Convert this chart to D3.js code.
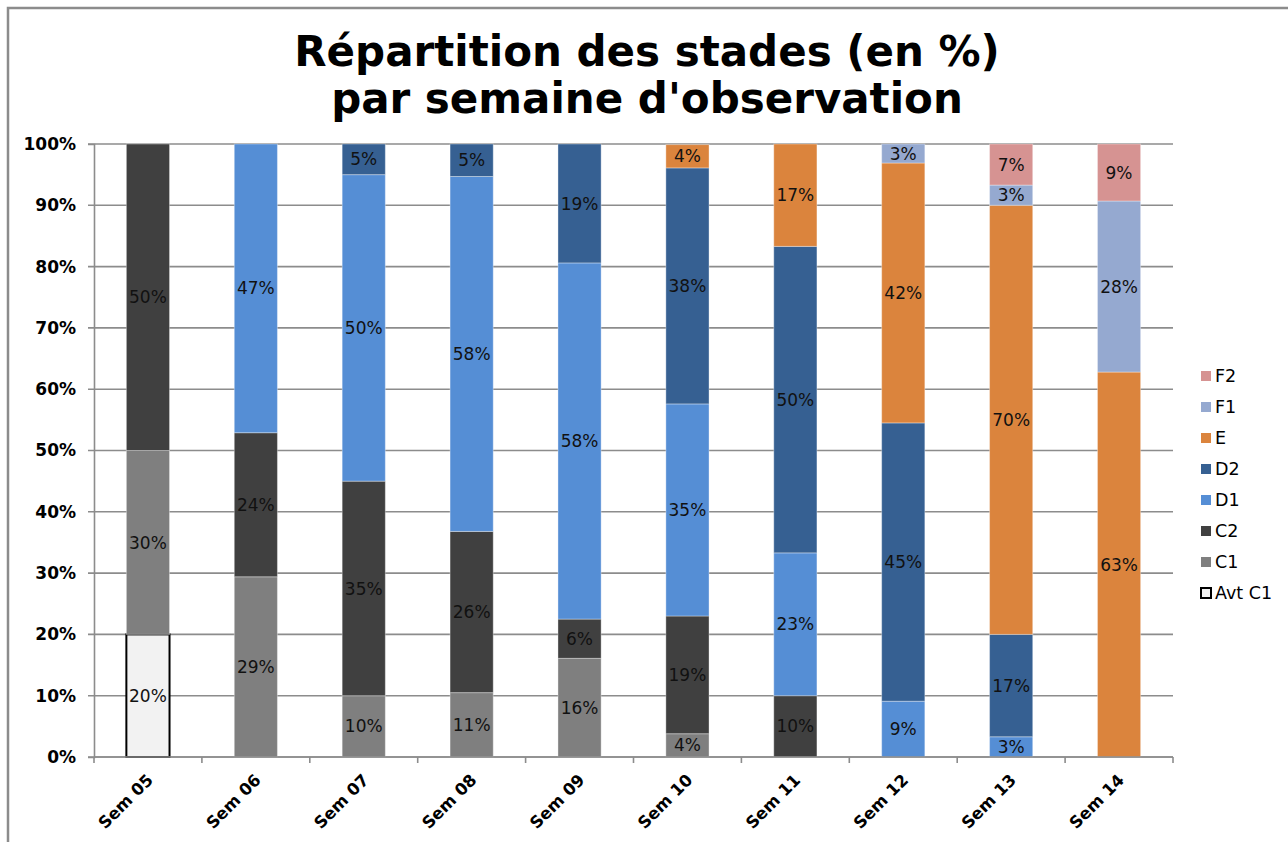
<!DOCTYPE html>
<html>
<head>
<meta charset="utf-8">
<script src="https://cdn.jsdelivr.net/npm/d3@7"></script>
<style>
  body { margin: 0; background: #fff; }
  svg { display: block; font-family: "DejaVu Sans", Verdana, sans-serif; }
</style>
</head>
<body>
<div id="chart"></div>
<script>
// weeks on the x axis
var weeks = ["Sem 05", "Sem 06", "Sem 07", "Sem 08", "Sem 09", "Sem 10", "Sem 11", "Sem 12", "Sem 13", "Sem 14"];
// stages, bottom to top
var stages = ["Avt C1", "C1", "C2", "D1", "D2", "E", "F1", "F2"];
var stageColors = ["#f2f2f2", "#7f7f7f", "#404040", "#558ed5", "#366092", "#db843d", "#95a9d0", "#d69392"];

// share of each stage per week (%)
var avtC1 = [20, 0, 0, 0, 0, 0, 0, 0, 0, 0];
var c1 = [30, 29.4, 10, 10.5, 16.1, 3.8, 0, 0, 0, 0];
var c2 = [50, 23.5, 35, 26.3, 6.4, 19.2, 10, 0, 0, 0];
var d1 = [0, 47.1, 50, 57.9, 58.1, 34.6, 23.3, 9.1, 3.3, 0];
var d2 = [0, 0, 5, 5.3, 19.4, 38.5, 50, 45.4, 16.7, 0];
var e = [0, 0, 0, 0, 0, 3.8, 16.7, 42.4, 70, 62.8];
var f1 = [0, 0, 0, 0, 0, 0, 0, 3.1, 3.3, 27.9];
var f2 = [0, 0, 0, 0, 0, 0, 0, 0, 6.7, 9.3];

var yTicks = [0, 10, 20, 30, 40, 50, 60, 70, 80, 90, 100];

var series = [avtC1, c1, c2, d1, d2, e, f1, f2];
var rows = weeks.map(function (w, i) {
  var r = { week: w };
  stages.forEach(function (s, k) { r[s] = series[k][i]; });
  return r;
});

var W = 1288, H = 842;
var svg = d3.select("#chart").append("svg").attr("width", W).attr("height", H);

// outer frame (cropped chart area border)
svg.append("path")
  .attr("d", "M8," + H + " L8,8 L" + W + ",8")
  .attr("fill", "none").attr("stroke", "#8c8c8c").attr("stroke-width", 2.5);

// title
var title = svg.append("text")
  .attr("text-anchor", "middle")
  .attr("font-weight", "bold")
  .attr("font-size", 42)
  .attr("fill", "#000");
title.append("tspan").attr("x", 647).attr("y", 66).text("Répartition des stades (en %)");
title.append("tspan").attr("x", 647).attr("y", 113).text("par semaine d'observation");

var plotLeft = 94, plotRight = 1173, plotTop = 144, plotBottom = 757;

var x = d3.scaleBand().domain(weeks).range([plotLeft, plotRight]).paddingInner(0.6).paddingOuter(0.3);
var y = d3.scaleLinear().domain([0, 100]).range([plotBottom, plotTop]);

// gridlines
svg.append("g").selectAll("line").data(yTicks).join("line")
  .attr("x1", plotLeft - 6).attr("x2", plotRight)
  .attr("y1", function (d) { return y(d); }).attr("y2", function (d) { return y(d); })
  .attr("stroke", "#8c8c8c").attr("stroke-width", 1.6);

// stacked bars
var stack = d3.stack().keys(stages)(rows);

var layers = svg.append("g").selectAll("g").data(stack).join("g")
  .attr("fill", function (d, i) { return stageColors[i]; });

layers.selectAll("rect").data(function (d) { return d.filter(function (p) { return p[1] - p[0] > 0; }); })
  .join("rect")
  .attr("x", function (p) { return x(p.data.week); })
  .attr("width", x.bandwidth())
  .attr("y", function (p) { return y(p[1]); })
  .attr("height", function (p) { return y(p[0]) - y(p[1]); })
  .attr("stroke", function () { return this.parentNode.__data__.key === "Avt C1" ? "#000" : "rgba(255,255,255,0.35)"; })
  .attr("stroke-width", function () { return this.parentNode.__data__.key === "Avt C1" ? 2 : 1; });

// data labels
layers.selectAll("text").data(function (d) { return d.filter(function (p) { return p[1] - p[0] > 0; }); })
  .join("text")
  .attr("x", function (p) { return x(p.data.week) + x.bandwidth() / 2; })
  .attr("y", function (p) { return (y(p[0]) + y(p[1])) / 2; })
  .attr("dy", "0.36em")
  .attr("text-anchor", "middle")
  .attr("font-size", 17)
  .attr("fill", "#111")
  .text(function (p) { return Math.round(p[1] - p[0]) + "%"; });

// y axis
var yAxis = svg.append("g")
  .attr("transform", "translate(" + plotLeft + ",0)")
  .call(d3.axisLeft(y).tickValues(yTicks).tickSize(6).tickFormat(function (d) { return d + "%"; }));
yAxis.select(".domain").attr("stroke", "#8c8c8c").attr("stroke-width", 1.6);
yAxis.selectAll(".tick line").remove();
yAxis.selectAll(".tick text")
  .attr("x", -18).attr("font-size", 17).attr("font-weight", "bold")
  .attr("font-family", "DejaVu Sans, Verdana, sans-serif").attr("fill", "#000");

// x axis
var xAxis = svg.append("g")
  .attr("transform", "translate(0," + plotBottom + ")")
  .call(d3.axisBottom(x).tickSize(0));
xAxis.select(".domain").remove();
xAxis.append("line").attr("x1", plotLeft).attr("x2", plotRight).attr("stroke", "#8c8c8c").attr("stroke-width", 1.6);
xAxis.selectAll(".tick text")
  .attr("font-size", 16.5).attr("font-weight", "bold")
  .attr("font-family", "DejaVu Sans, Verdana, sans-serif").attr("fill", "#000")
  .attr("text-anchor", "end")
  .attr("transform", "translate(2,20) rotate(-45)")
  .attr("y", 0).attr("dy", "0.35em");
// category boundary ticks
var step = x.step();
var bounds = d3.range(weeks.length + 1).map(function (i) { return plotLeft + i * step; });
xAxis.selectAll(".bound").data(bounds).join("line").attr("class", "bound")
  .attr("x1", function (d) { return d; }).attr("x2", function (d) { return d; })
  .attr("y1", 0).attr("y2", 6)
  .attr("stroke", "#8c8c8c").attr("stroke-width", 1.6);

// legend, top entry first
var legendItems = stages.slice().reverse();
var legend = svg.append("g").selectAll("g").data(legendItems).join("g")
  .attr("transform", function (d, i) { return "translate(1201," + (376 + i * 31) + ")"; });
legend.append("rect")
  .attr("x", 0).attr("y", -5).attr("width", 10).attr("height", 10)
  .attr("fill", function (d) { return stageColors[stages.indexOf(d)]; })
  .attr("stroke", function (d) { return d === "Avt C1" ? "#000" : "none"; })
  .attr("stroke-width", 2);
legend.append("text")
  .attr("x", 14).attr("y", 0).attr("dy", "0.36em")
  .attr("font-size", 17.5).attr("fill", "#000")
  .text(function (d) { return d; });
</script>
</body>
</html>
